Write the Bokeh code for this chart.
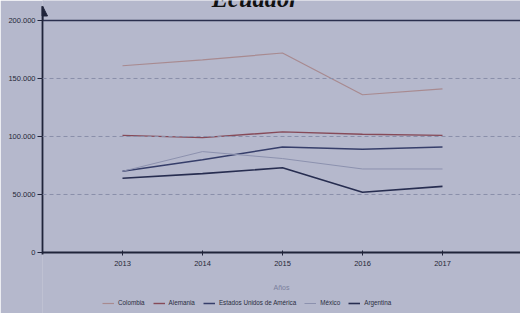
from bokeh.plotting import figure
from bokeh.models import (Range1d, FixedTicker, Span, Legend, LegendItem, Label,
                          Arrow, NormalHead, LinearAxis)
from bokeh.embed import file_html
from bokeh.resources import INLINE

years = [2013, 2014, 2015, 2016, 2017]
colombia = [161000, 166000, 172000, 136000, 141000]
alemania = [101000, 99000, 104000, 102000, 101000]
estados_unidos = [70000, 80000, 91000, 89000, 91000]
mexico = [70000, 87000, 81000, 72000, 72000]
argentina = [64000, 68000, 73000, 52000, 57000]

series_names = ["Colombia", "Alemania", "Estados Unidos de América", "México", "Argentina"]
series_values = [colombia, alemania, estados_unidos, mexico, argentina]
series_colors = ["#a88a90", "#864a58", "#363e6a", "#8c91ae", "#272d50"]
series_widths = [1.2, 1.4, 1.5, 1.0, 1.6]

y_ticks = [0, 50000, 100000, 150000, 200000]
y_tick_labels = {0: "0", 50000: "50.000", 100000: "100.000", 150000: "150.000", 200000: "200.000"}
grid_values = [50000, 100000, 150000]

BG = "#b5b8cc"
DARK = "#20243a"

p = figure(width=520, height=313, output_backend="svg", toolbar_location=None,
           x_axis_location=None,
           x_range=Range1d(2012.0, 2017.975), y_range=Range1d(-52586, 217241),
           min_border_left=42, min_border_right=0, min_border_top=0, min_border_bottom=0,
           background_fill_color=BG, border_fill_color=BG)
p.outline_line_color = None
p.xgrid.visible = False
p.ygrid.visible = False

# cover the seam between the left panel and the plot frame
p.add_layout(Span(location=2012, dimension="height", line_color=BG, line_width=3,
                  level="underlay"))

for gv in grid_values:
    p.add_layout(Span(location=gv, dimension="width", line_color="#8a8fa9",
                      line_dash="4 3", line_width=1))
p.add_layout(Span(location=200000, dimension="width", line_color="#2a2f4e", line_width=1.6))

items = []
for name, vals, col, w in zip(series_names, series_values, series_colors, series_widths):
    r = p.line(years, vals, line_color=col, line_width=w)
    items.append(LegendItem(label=name, renderers=[r]))

xaxis = LinearAxis(fixed_location=0, ticker=FixedTicker(ticks=years))
xaxis.axis_label = "Años"
xaxis.axis_label_text_font = "Liberation Sans"
xaxis.axis_label_text_font_size = "7px"
xaxis.axis_label_text_font_style = "normal"
xaxis.axis_label_text_color = "#7a7f9c"
xaxis.axis_label_standoff = 15
xaxis.axis_line_color = DARK
xaxis.axis_line_width = 2
xaxis.major_tick_in = 2
xaxis.major_tick_out = 3
xaxis.major_tick_line_color = DARK
xaxis.minor_tick_line_color = None
xaxis.major_label_text_font = "Liberation Sans"
xaxis.major_label_text_font_size = "7.5px"
xaxis.major_label_text_color = "#252838"
xaxis.major_label_standoff = 5
p.add_layout(xaxis, "below")

p.yaxis.ticker = FixedTicker(ticks=y_ticks)
p.yaxis.major_label_overrides = y_tick_labels
p.yaxis.bounds = (-1500, 212000)
p.yaxis.axis_line_color = DARK
p.yaxis.axis_line_width = 1.8
p.yaxis.major_tick_in = 0
p.yaxis.major_tick_out = 5
p.yaxis.major_tick_line_color = DARK
p.yaxis.minor_tick_line_color = None
p.yaxis.major_label_text_font = "Liberation Sans"
p.yaxis.major_label_text_font_size = "7.5px"
p.yaxis.major_label_text_color = "#252838"
p.yaxis.major_label_standoff = 2

p.add_layout(Arrow(end=NormalHead(size=10, fill_color=DARK, line_color=DARK),
                   x_start=2012, y_start=200000, x_end=2012, y_end=212500,
                   line_color=DARK, line_width=1.8))

p.add_layout(Label(x=2014.66, y=211200, y_offset=9, text="Ecuador", text_align="center",
                   text_baseline="alphabetic", text_font="Liberation Serif",
                   text_font_style="bold italic", text_font_size="24.5px",
                   text_color="#111111"))

legend = Legend(items=items, orientation="horizontal", location=(58, 5),
                label_text_font="Liberation Sans", label_text_font_size="6.3px",
                label_text_color="#2a2d40", glyph_width=12, glyph_height=6,
                label_standoff=4, spacing=8, padding=2, margin=0,
                label_height=6, background_fill_alpha=0, border_line_alpha=0)
p.add_layout(legend, "center")

open("out.html", "w").write(file_html(p, INLINE))
